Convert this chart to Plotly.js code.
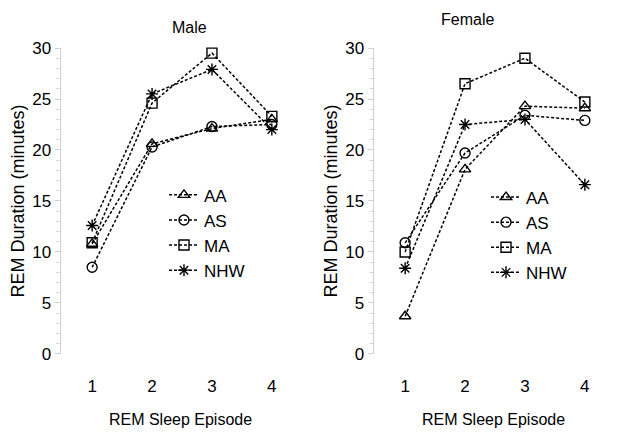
<!DOCTYPE html>
<html>
<head>
<meta charset="utf-8">
<script src="https://cdn.plot.ly/plotly-3.0.1.min.js"></script>
<style>html,body{margin:0;padding:0;background:#fff;}#chart{width:626px;height:440px;}</style>
</head>
<body>
<div id="chart"></div>
<script>
const episodes = [1, 2, 3, 4];
const groups = ['AA', 'AS', 'MA', 'NHW'];
const maleAA = [10.8, 20.6, 22.1, 23.0];
const maleAS = [8.5, 20.3, 22.3, 22.5];
const maleMA = [10.9, 24.6, 29.5, 23.3];
const maleNHW = [12.6, 25.5, 27.9, 22.0];
const femaleAA = [3.7, 18.1, 24.3, 24.1];
const femaleAS = [10.9, 19.7, 23.4, 22.9];
const femaleMA = [10.0, 26.5, 29.0, 24.7];
const femaleNHW = [8.4, 22.5, 23.0, 16.6];
const yTickVals = [0, 5, 10, 15, 20, 25, 30];
const xTickVals = [1, 2, 3, 4];

const symbols = ['triangle-up-open', 'circle-open', 'square-open', 'asterisk-open'];
const fam = '"Liberation Sans", Arial, sans-serif';

function mk(y, i, xa, ya, leg) {
  return {
    x: episodes, y: y, name: groups[i], type: 'scatter', mode: 'lines+markers',
    xaxis: xa, yaxis: ya, legend: leg,
    line: {color: '#000', width: 1.5, dash: '3px,2px'},
    marker: {symbol: symbols[i], size: 10, color: '#000', line: {color: '#000', width: 1.4}},
    cliponaxis: false
  };
}

const data = [
  mk(maleAA, 0, 'x', 'y', 'legend'), mk(maleAS, 1, 'x', 'y', 'legend'),
  mk(maleMA, 2, 'x', 'y', 'legend'), mk(maleNHW, 3, 'x', 'y', 'legend'),
  mk(femaleAA, 0, 'x2', 'y2', 'legend2'), mk(femaleAS, 1, 'x2', 'y2', 'legend2'),
  mk(femaleMA, 2, 'x2', 'y2', 'legend2'), mk(femaleNHW, 3, 'x2', 'y2', 'legend2')
];

function xax(dom) {
  return {
    domain: dom, range: [0.48, 4.47], tickvals: xTickVals, ticktext: xTickVals.map(String),
    showgrid: false, zeroline: false, showline: false, ticks: '',
    ticklabelstandoff: 20,
    tickfont: {family: fam, size: 17, color: '#000'},
    title: {text: 'REM Sleep Episode', font: {family: fam, size: 16, color: '#000'}, standoff: 18},
    fixedrange: true
  };
}
function yax(anchor) {
  return {
    anchor: anchor, domain: [0.1955, 0.8909], range: [0, 30], tickvals: yTickVals,
    showgrid: false, zeroline: false, showline: true, linecolor: '#d0d0d0', linewidth: 1.5,
    ticks: 'outside', ticklen: 5, tickcolor: '#d0d0d0', tickwidth: 1,
    minor: {dtick: 1, ticks: 'outside', ticklen: 4, tickcolor: '#d8d8d8', tickwidth: 1},
    tickfont: {family: fam, size: 17, color: '#000'},
    title: {text: 'REM Duration (minutes)', font: {family: fam, size: 18, color: '#000'}, standoff: 3},
    fixedrange: true
  };
}

const layout = {
  width: 626, height: 440,
  margin: {l: 0, r: 0, t: 0, b: 0},
  paper_bgcolor: '#fff', plot_bgcolor: '#fff',
  showlegend: true,
  xaxis: Object.assign(xax([61/626, 300/626]), {anchor: 'y'}),
  yaxis: yax('x'),
  xaxis2: Object.assign(xax([374/626, 613/626]), {anchor: 'y2'}),
  yaxis2: yax('x2'),
  legend: {x: 164/626, y: 0.597, xanchor: 'left', yanchor: 'top', bgcolor: 'rgba(0,0,0,0)',
    font: {family: fam, size: 17, color: '#000'}, itemwidth: 30},
  legend2: {x: 486/626, y: 0.592, xanchor: 'left', yanchor: 'top', bgcolor: 'rgba(0,0,0,0)',
    font: {family: fam, size: 17, color: '#000'}, itemwidth: 30},
  annotations: [
    {text: 'Male', x: 170/626, y: 1 - 27/440, xref: 'paper', yref: 'paper', yanchor: 'middle', showarrow: false,
      font: {family: fam, size: 16, color: '#000'}},
    {text: 'Female', x: 496/626, y: 1 - 20/440, xref: 'paper', yref: 'paper', yanchor: 'middle', showarrow: false,
      font: {family: fam, size: 16, color: '#000'}}
  ]
};

Plotly.newPlot('chart', data, layout, {displayModeBar: false, staticPlot: true});
</script>
</body>
</html>
